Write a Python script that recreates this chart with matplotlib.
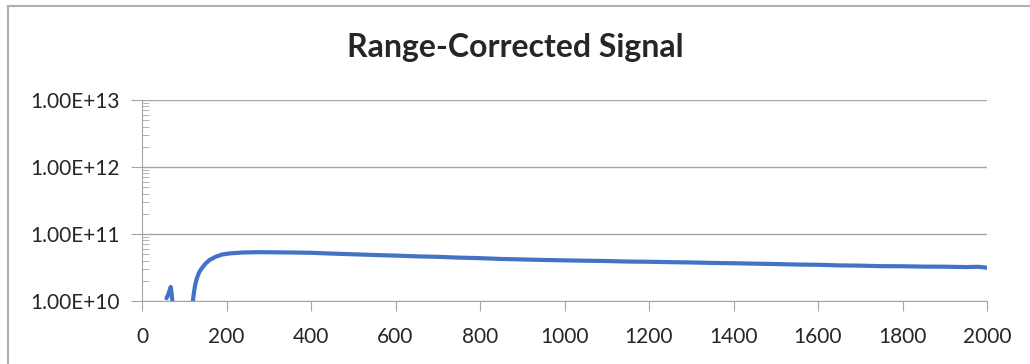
import numpy as np
import matplotlib
matplotlib.use("Agg")
from matplotlib import pyplot as plt
from matplotlib.ticker import LogLocator, FixedLocator

# range bins (m) and range-corrected signal; nan = gap (negative / missing)
rng = [58, 62, 66, 68, 70, 72, 74,
       None,
       120, 123, 126, 130, 135, 140, 150, 160, 175, 190, 210, 240, 270,
       300, 350, 400, 450, 500, 550, 600, 650, 700, 750, 800, 850, 900,
       950, 1000, 1050, 1100, 1150, 1200, 1250, 1300, 1350, 1400, 1450,
       1500, 1550, 1600, 1650, 1700, 1750, 1800, 1850, 1900, 1950, 1980, 2000]
rcs = [1.10e10, 1.25e10, 1.48e10, 1.62e10, 1.30e10, 0.95e10, 0.50e10,
       None,
       0.95e10, 1.35e10, 1.75e10, 2.20e10, 2.65e10, 3.00e10, 3.60e10, 4.10e10,
       4.60e10, 4.95e10, 5.15e10, 5.30e10, 5.35e10,
       5.34e10, 5.30e10, 5.24e10, 5.10e10, 4.98e10, 4.86e10, 4.76e10,
       4.64e10, 4.56e10, 4.44e10, 4.36e10, 4.24e10, 4.17e10,
       4.10e10, 4.04e10, 3.99e10, 3.95e10, 3.88e10, 3.85e10, 3.80e10,
       3.76e10, 3.70e10, 3.66e10, 3.61e10,
       3.56e10, 3.50e10, 3.47e10, 3.40e10, 3.37e10, 3.31e10, 3.30e10,
       3.26e10, 3.25e10, 3.21e10, 3.24e10, 3.14e10]

x = np.array([np.nan if v is None else v for v in rng], dtype=float)
y = np.array([np.nan if v is None else v for v in rcs], dtype=float)

plt.rcParams["font.family"] = ["Lato", "DejaVu Sans"]

fig = plt.figure(figsize=(10.3, 3.64), dpi=100)
ax = fig.add_axes([142 / 1030, 1 - 301 / 364, 845 / 1030, 201 / 364])

ax.plot(x, y, color="#4472C4", lw=3.0, solid_capstyle="round")
ax.set_yscale("log")
ax.set_xlim(0, 2000)
ax.set_ylim(1e10, 1e13)

ax.set_xticks(np.arange(0, 2001, 200))
ax.yaxis.set_major_locator(FixedLocator([1e10, 1e11, 1e12, 1e13]))
ax.yaxis.set_minor_locator(LogLocator(base=10, subs=np.arange(2, 10)))
ax.set_yticklabels(["1.00E+10", "1.00E+11", "1.00E+12", "1.00E+13"])
ax.yaxis.set_minor_formatter(plt.NullFormatter())

ax.grid(axis="y", which="major", color="#A6A6A6", lw=1.0)
for s in ["top", "right"]:
    ax.spines[s].set_visible(False)
ax.spines["left"].set_color("#A6A6A6")
ax.spines["bottom"].set_color("#A6A6A6")

ax.tick_params(axis="y", which="major", direction="out", length=8, color="#A6A6A6",
               labelsize=15, labelcolor="#262626", pad=8)
ax.tick_params(axis="y", which="minor", direction="in", length=5, color="#A6A6A6")
ax.tick_params(axis="x", direction="out", length=7, color="#A6A6A6",
               labelsize=15, labelcolor="#262626", pad=12)

fig.text(0.5, 1 - 48 / 364, "Range-Corrected Signal", ha="center", va="center",
         fontsize=23, fontweight="bold", color="#262626")

# chart frame (top and left edges visible)
fig.add_artist(plt.Line2D([7.5 / 1030, 1], [1 - 5.5 / 364, 1 - 5.5 / 364],
                          color="#B0B0B0", lw=1.5))
fig.add_artist(plt.Line2D([7.5 / 1030, 7.5 / 1030], [0, 1 - 5.5 / 364],
                          color="#B0B0B0", lw=1.5))

fig.savefig("out.png", dpi=100)
